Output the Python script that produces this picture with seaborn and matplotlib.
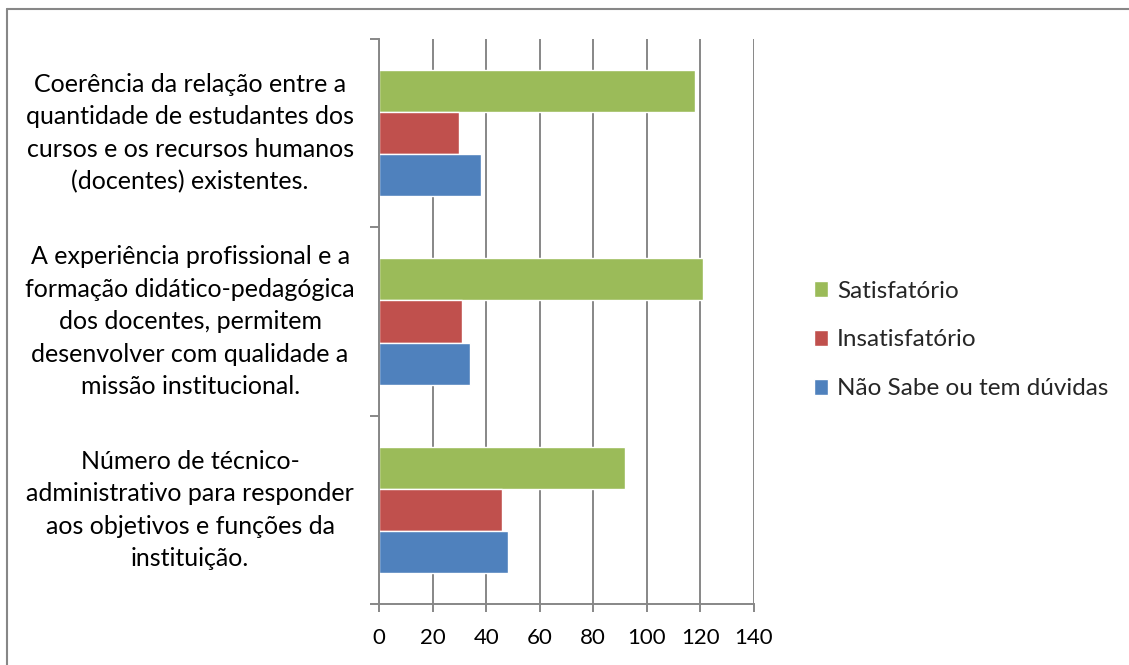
import matplotlib
matplotlib.use("Agg")
import matplotlib.pyplot as plt
from matplotlib.lines import Line2D
import seaborn as sns
import pandas as pd

categories = [
    "Coerência da relação entre a\nquantidade de estudantes dos\ncursos e os recursos humanos\n(docentes) existentes.",
    "A experiência profissional e a\nformação didático-pedagógica\ndos docentes, permitem\ndesenvolver com qualidade a\nmissão institucional.",
    "Número de técnico-\nadministrativo para responder\naos objetivos e funções da\ninstituição.",
]
series = ["Satisfatório", "Insatisfatório", "Não Sabe ou tem dúvidas"]
satisfatorio = [118, 121, 92]
insatisfatorio = [30, 31, 46]
nao_sabe = [38, 34, 48]
x_ticks = [0, 20, 40, 60, 80, 100, 120, 140]
colors = ["#9BBB59", "#C0504D", "#4F81BD"]

rows = []
for vals, s in zip([satisfatorio, insatisfatorio, nao_sabe], series):
    for c, v in zip(categories, vals):
        rows.append({"cat": c, "serie": s, "valor": v})
df = pd.DataFrame(rows)

sns.set_theme(style="white")
plt.rcParams["font.family"] = ["Lato", "DejaVu Sans"]

fig = plt.figure(figsize=(11.29, 6.65), dpi=100)
ax = fig.add_axes([379/1129, 1-604/665, (754-379)/1129, (604-39)/665])

sns.barplot(data=df, y="cat", x="valor", hue="serie", order=categories,
            hue_order=series, palette=colors, orient="h", width=0.67,
            gap=0, saturation=1, ax=ax, legend=True)

grid_c = "#878787"
ax.set_xlim(0, 140)
ax.set_ylim(2.5, -0.5)
ax.set_xticks(x_ticks)
ax.set_xticklabels([str(t) for t in x_ticks], fontsize=16, color="black")
ax.xaxis.grid(True, color=grid_c, linewidth=1.4)
ax.set_axisbelow(True)
ax.tick_params(axis="x", which="major", length=5.5, width=1.4, color=grid_c,
               direction="out", pad=12, bottom=True)
ax.set_yticks([0, 1, 2])
ax.set_yticklabels(categories, ha="center", va="center", multialignment="center",
                   fontsize=18, linespacing=1.5, color="black")
ax.set_yticks([-0.5, 0.5, 1.5, 2.5], minor=True)
ax.tick_params(axis="y", which="major", length=0, pad=136)
ax.tick_params(axis="y", which="minor", length=6.5, width=1.4, color=grid_c,
               direction="out", left=True)
ax.set_xlabel("")
ax.set_ylabel("")
for side in ["top", "right"]:
    ax.spines[side].set_visible(False)
for side in ["left", "bottom"]:
    ax.spines[side].set_color(grid_c)
    ax.spines[side].set_linewidth(1.4)

handles, labels = ax.get_legend_handles_labels()
ax.legend(handles, labels, loc="center left", bbox_to_anchor=(792/1129, 1-340/665),
          bbox_transform=fig.transFigure, frameon=False, fontsize=17.5,
          handlelength=0.6, handleheight=0.6, handletextpad=0.35, labelspacing=1.15)

fig.add_artist(Line2D([7/1129, 7/1129], [0, 1-9/665], transform=fig.transFigure,
                      color=grid_c, linewidth=1.5))
fig.add_artist(Line2D([7/1129, 1], [1-9/665, 1-9/665], transform=fig.transFigure,
                      color=grid_c, linewidth=1.5))

fig.savefig("out.png", dpi=100, facecolor="white")
